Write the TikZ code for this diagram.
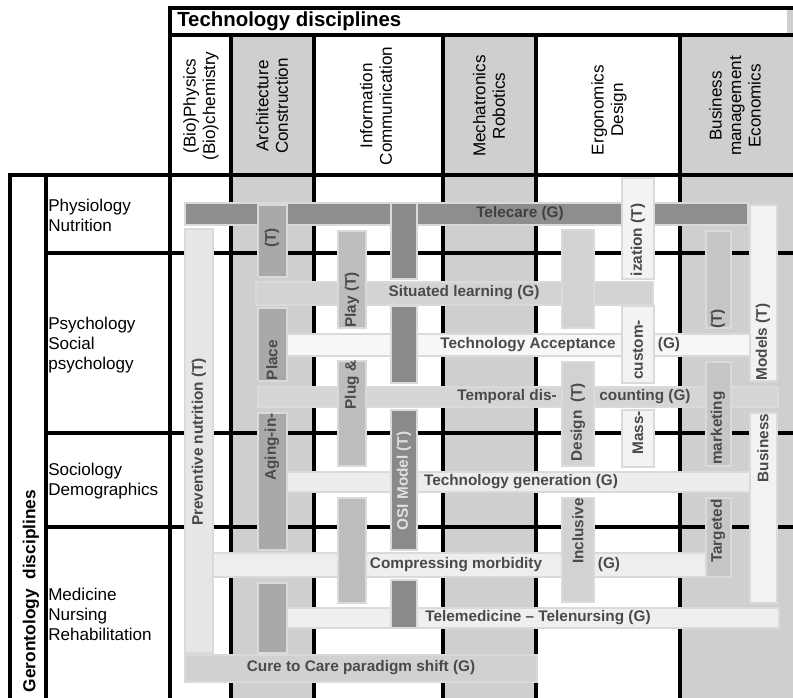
\documentclass[tikz,border=0pt]{standalone}
\usepackage{fontspec}
\setmainfont{Liberation Sans}
\usepackage{tikz}

\definecolor{colshade}{HTML}{CFCFCF}
\definecolor{halo}{HTML}{DADADA}
\definecolor{txt}{HTML}{4A4A4A}
\definecolor{telecare}{HTML}{8E8E8E}
\definecolor{situated}{HTML}{D3D3D3}
\definecolor{accept}{HTML}{F7F7F7}
\definecolor{temporal}{HTML}{D5D5D5}
\definecolor{techgen}{HTML}{EDEDED}
\definecolor{compress}{HTML}{EEEEEE}
\definecolor{telemed}{HTML}{EFEFEF}
\definecolor{cure}{HTML}{D1D1D1}
\definecolor{prevent}{HTML}{E6E6E6}
\definecolor{aging}{HTML}{A9A9A9}
\definecolor{plug}{HTML}{BDBDBD}
\definecolor{osi}{HTML}{8A8A8A}
\definecolor{inclusive}{HTML}{D2D2D2}
\definecolor{masscust}{HTML}{F3F3F3}
\definecolor{targeted}{HTML}{C6C6C6}
\definecolor{bizmodel}{HTML}{F2F2F2}

\begin{document}
\begin{tikzpicture}[x=0.75pt, y=-0.75pt,
  rule/.style={line width=2.8pt},
  band/.style={draw=halo, line width=2.2pt},
  lbl/.style={inner sep=0pt, text=txt, font=\fontsize{11.5}{13}\selectfont\bfseries},
  vlbl/.style={lbl, rotate=90},
  head/.style={inner sep=0pt, align=center, rotate=90, font=\fontsize{12.8}{14.6}\selectfont},
  rowlbl/.style={inner sep=0pt, anchor=west, align=left, font=\fontsize{12.8}{15}\selectfont}]

\useasboundingbox (0,0) rectangle (793,698);
\fill[white] (0,0) rectangle (793,698);

% column shading
\fill[colshade] (231,35) rectangle (314,698);
\fill[colshade] (443,35) rectangle (536,698);
\fill[colshade] (680,35) rectangle (793,698);
\fill[colshade] (787,10) rectangle (793,33);

% draw table lines
\draw[rule] (168,8) -- (793,8);
\draw[rule] (170,35) -- (793,35);
\draw[rule] (8,175) -- (793,175);
\foreach \y in {253,433,527} \draw[rule] (46,\y) -- (793,\y);
\draw[rule] (10,175) -- (10,698);
\draw[rule] (46,175) -- (46,698);
\draw[rule] (170,8) -- (170,698);
\foreach \x in {231,314,443,536,680} \draw[rule] (\x,35) -- (\x,698);

% headers
\node[inner sep=0pt, anchor=base west, font=\fontsize{15.3}{17}\selectfont\bfseries] (tech) at (177,26.5) {Technology disciplines};
\node[head] (bio) at (201,106) {(Bio)Physics\\(Bio)chemistry};
\node[head] (arch) at (272,106) {Architecture\\Construction};
\node[head] (info) at (376,106) {Information\\Communication};
\node[head] (mech) at (489,106) {Mechatronics\\Robotics};
\node[head] (ergo) at (609,110) {Ergonomics\\Design};
\node[head] (biz) at (735,106) {Business\\management\\Economics};

\node[rowlbl] (physio) at (48,215) {Physiology\\Nutrition};
\node[rowlbl] (psycho) at (48,345) {Psychology\\Social\\psychology};
\node[rowlbl] (socio) at (48,481) {Sociology\\Demographics};
\node[rowlbl] (medic) at (48,614) {Medicine\\Nursing\\Rehabilitation};
\node[inner sep=0pt, rotate=90, font=\fontsize{13}{15}\selectfont\bfseries] (geronto) at (31,591) {Gerontology~ disciplines};

% horizontal strips (G)
\filldraw[band, fill=telecare] (185,203) rectangle (748,225);
\filldraw[band, fill=situated] (256,282) rectangle (653,305);
\filldraw[band, fill=accept] (272,334) rectangle (750,356);
\filldraw[band, fill=temporal] (258,387) rectangle (778,407);
\filldraw[band, fill=techgen] (272,472) rectangle (752,492);
\filldraw[band, fill=compress] (213,553) rectangle (712,577);
\filldraw[band, fill=telemed] (287,608) rectangle (779,628);
\filldraw[band, fill=cure] (185,655) rectangle (537,682);

% vertical strips (T), broken where a strip passes over them
\filldraw[band, fill=prevent] (185,229) rectangle (213,653);
\foreach \a/\b in {205/277,308/381,413/550,583/653}
  \filldraw[band, fill=aging] (258,\a) rectangle (287,\b);
\foreach \a/\b in {231/328,361/466,498/603}
  \filldraw[band, fill=plug] (338,\a) rectangle (366,\b);
\foreach \a/\b in {203/279,306/383,410/550,580/628}
  \filldraw[band, fill=osi] (391,\a) rectangle (417,\b);
\foreach \a/\b in {230/328,362/466,498/602}
  \filldraw[band, fill=inclusive] (562,\a) rectangle (594,\b);
\foreach \a/\b in {178/279,306/383,410/467}
  \filldraw[band, fill=masscust] (622,\a) rectangle (654,\b);
\foreach \a/\b in {231/328,362/466,498/577}
  \filldraw[band, fill=targeted] (706,\a) rectangle (731,\b);
\foreach \a/\b in {205/381,413/603}
  \filldraw[band, fill=bizmodel] (750,\a) rectangle (777,\b);

% strip labels
\node[lbl, text=black!75] (telecareL) at (520,214) {Telecare (G)};
\node[lbl] (situatedL) at (464,293) {Situated learning (G)};
\node[lbl] (acceptL) at (528,345) {Technology Acceptance};
\node[lbl] (acceptG) at (669,345) {(G)};
\node[lbl] (temporalL) at (507,397) {Temporal dis-};
\node[lbl] (temporalG) at (645,397) {counting (G)};
\node[lbl] (techgenL) at (521,482) {Technology generation (G)};
\node[lbl] (compressL) at (456,565) {Compressing morbidity};
\node[lbl] (compressG) at (609,565) {(G)};
\node[lbl] (telemedL) at (538,618) {Telemedicine – Telenursing (G)};
\node[lbl] (cureL) at (361,668) {Cure to Care paradigm shift (G)};

\node[vlbl] (preventL) at (199,442) {Preventive nutrition (T)};
\node[vlbl] (agingT) at (272,238) {(T)};
\node[vlbl] (agingB) at (272,360) {Place};
\node[vlbl] (agingA) at (272,447) {Aging-in-};
\node[vlbl] (plugT) at (352,300) {Play (T)};
\node[vlbl] (plugA) at (352,385) {Plug \&};
\node[vlbl, text=black!12] (osiL) at (404,481) {OSI Model (T)};
\node[vlbl] (inclT) at (578,393) {(T)};
\node[vlbl] (inclB) at (578,436) {Design};
\node[vlbl] (inclA) at (578,531) {Inclusive};
\node[vlbl] (massT) at (638,240) {ization (T)};
\node[vlbl] (massB) at (638,350) {custom-};
\node[vlbl] (massA) at (638,433) {Mass-};
\node[vlbl] (targT) at (718,319) {(T)};
\node[vlbl] (targB) at (718,428) {marketing};
\node[vlbl] (targA) at (718,531) {Targeted};
\node[vlbl] (bizT) at (763,342) {Models (T)};
\node[vlbl] (bizA) at (763,448) {Business};

\end{tikzpicture}
\end{document}
